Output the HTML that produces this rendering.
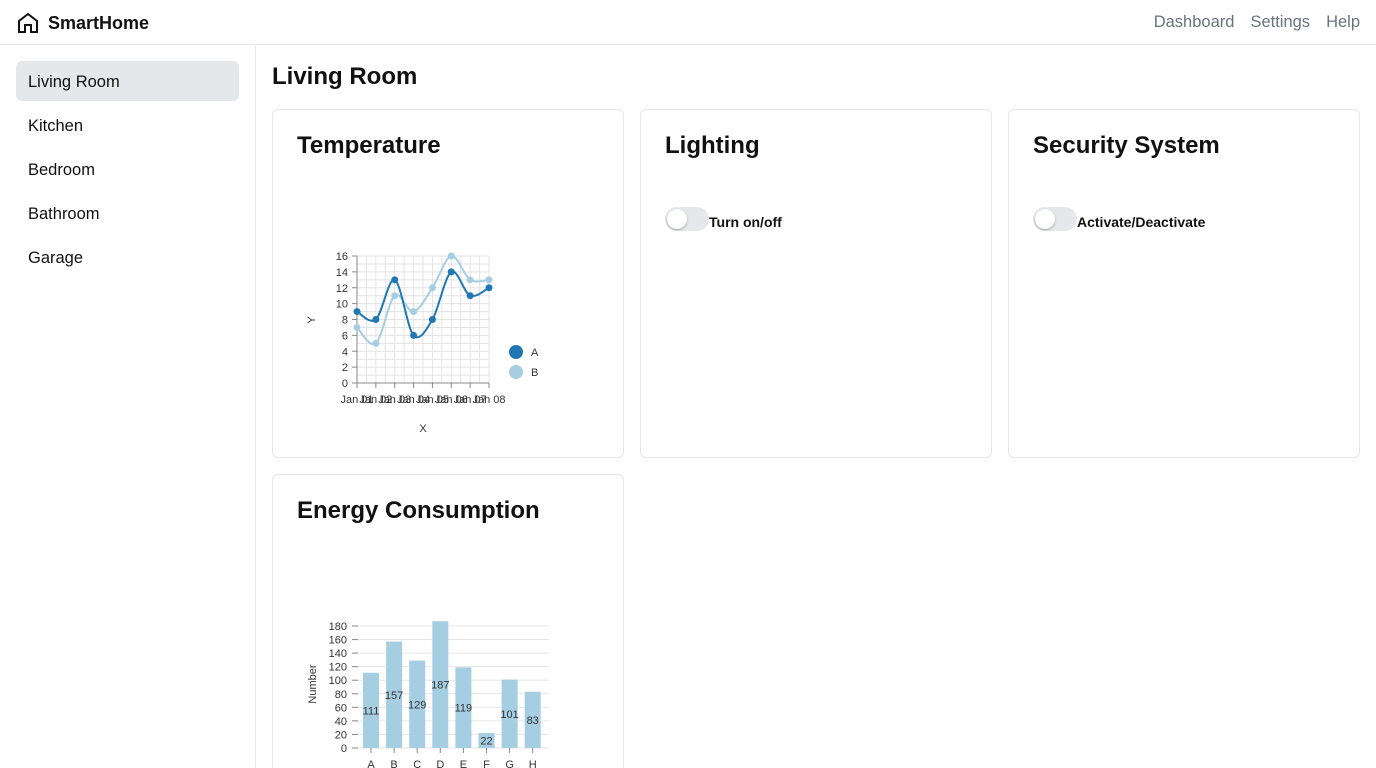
<!DOCTYPE html>
<html><head><meta charset="utf-8"><style>
*{box-sizing:border-box;margin:0;padding:0}
html,body{width:1376px;height:768px;overflow:hidden}
body{background:#fff;font-family:"Liberation Sans","DejaVu Sans",sans-serif;color:#111;position:relative}
.hdr{position:absolute;left:0;top:0;width:1376px;height:45px;border-bottom:1px solid #e5e7eb}
.logo{position:absolute;left:16px;top:11px;display:flex;align-items:center;gap:8px;font-weight:bold;font-size:18px}
.nav{position:absolute;right:16px;top:13px;display:flex;gap:16px;font-size:16.5px;color:#6b7280}
.side{position:absolute;left:0;top:45px;width:256px;height:723px;border-right:1px solid #e5e7eb}
.si{position:absolute;left:16px;width:223px;height:40px;line-height:42px;padding-left:12px;font-size:16.5px;border-radius:6px}
.si.act{background:#e5e7eb}
h1{position:absolute;left:272px;top:63px;font-size:24px;font-weight:bold}
.card{position:absolute;border:1px solid #e5e7eb;border-radius:6px;background:#fff}
.card h2{position:absolute;left:24px;top:22px;font-size:24px;font-weight:bold}
.tg{position:absolute;top:97px;left:24px;display:flex;align-items:center;font-size:14px;font-weight:600}
.tg span{position:relative;top:3px}
.sw{width:44px;height:24px;border-radius:12px;background:#e5e7eb;position:relative}
.sw::after{content:"";position:absolute;left:2px;top:2px;width:20px;height:20px;border-radius:50%;background:#fff;box-shadow:0 1px 2px rgba(0,0,0,.3)}
svg text{font-family:"Liberation Sans",sans-serif}
</style></head><body>
<div class="hdr">
<div class="logo"><svg width="24" height="24" viewBox="0 0 24 24" fill="none" stroke="#111" stroke-width="2"><path d="M3 10 L12 3 L21 10 V21 H15 V14 H9 V21 H3 Z"/></svg><span>SmartHome</span></div>
<div class="nav"><span>Dashboard</span><span>Settings</span><span>Help</span></div>
</div>
<div class="side">
<div class="si act" style="top:16px">Living Room</div>
<div class="si" style="top:60px">Kitchen</div>
<div class="si" style="top:104px">Bedroom</div>
<div class="si" style="top:148px">Bathroom</div>
<div class="si" style="top:192px">Garage</div>
</div>
<h1>Living Room</h1>
<div class="card" style="left:272px;top:109px;width:352px;height:349px"><h2>Temperature</h2></div>
<div class="card" style="left:640px;top:109px;width:352px;height:349px"><h2>Lighting</h2>
<div class="tg"><div class="sw"></div><span>Turn on/off</span></div></div>
<div class="card" style="left:1008px;top:109px;width:352px;height:349px"><h2>Security System</h2>
<div class="tg"><div class="sw"></div><span>Activate/Deactivate</span></div></div>
<div class="card" style="left:272px;top:474px;width:352px;height:320px"><h2>Energy Consumption</h2></div>
<svg id="lc" style="position:absolute;left:0;top:0" width="1376" height="768"></svg>
<script>
const lineDates=["Jan 01","Jan 02","Jan 03","Jan 04","Jan 05","Jan 06","Jan 07","Jan 08"];
const seriesA=[9,8,13,6,8,14,11,12];
const seriesB=[7,5,11,9,12,16,13,13];
const lineYTicks=[0,2,4,6,8,10,12,14,16];
const barCats=["A","B","C","D","E","F","G","H"];
const barVals=[111,157,129,187,119,22,101,83];
const barYTicks=[0,20,40,60,80,100,120,140,160,180];
const NS="http://www.w3.org/2000/svg";
const svg=document.getElementById('lc');
function mk(t,a,txt){const e=document.createElementNS(NS,t);for(const k in a)e.setAttribute(k,a[k]);if(txt!==undefined)e.textContent=txt;svg.appendChild(e);return e;}
const lx=i=>357+i*(132/(lineDates.length-1));
const ly=v=>383-v*(127/16);
for(let v=0;v<=16;v++){const g=mk('line',{x1:357,x2:489,y1:ly(v),y2:ly(v),stroke:'#e3e3e3','stroke-width':1});}
for(let i=0;i<lineDates.length*2-1;i++){const x=357+i*(132/14);const g=mk('line',{x1:x,x2:x,y1:ly(16),y2:ly(0),stroke:'#e3e3e3','stroke-width':1});}
mk('line',{x1:357,x2:357,y1:ly(16),y2:ly(0),stroke:'#888'});
mk('line',{x1:357,x2:489,y1:ly(0),y2:ly(0),stroke:'#888'});
lineYTicks.forEach(v=>{mk('line',{x1:352,x2:357,y1:ly(v),y2:ly(v),stroke:'#888'});const t=mk('text',{x:348,y:ly(v)+4,'font-size':11,'text-anchor':'end',fill:'#333'},v);});
lineDates.forEach((d,i)=>{mk('line',{x1:lx(i),x2:lx(i),y1:ly(0),y2:ly(0)+5,stroke:'#888'});const t=mk('text',{x:lx(i),y:403,'font-size':11,'text-anchor':'middle',fill:'#333'},d);});
function curve(vals){const p=vals.map((v,i)=>[lx(i),ly(v)]);let d=`M${p[0][0]},${p[0][1]}`;for(let i=0;i<p.length-1;i++){const p0=p[i-1]||p[i],p1=p[i],p2=p[i+1],p3=p[i+2]||p2;d+=` C${p1[0]+(p2[0]-p0[0])/6},${p1[1]+(p2[1]-p0[1])/6} ${p2[0]-(p3[0]-p1[0])/6},${p2[1]-(p3[1]-p1[1])/6} ${p2[0]},${p2[1]}`;}return d;}
[[seriesB,'#a6cee3','series-b'],[seriesA,'#1f78b4','series-a']].forEach(([vals,c,n])=>{const l=mk('path',{d:curve(vals),fill:'none',stroke:c,'stroke-width':2});vals.forEach((v,i)=>{const pt=mk('circle',{cx:lx(i),cy:ly(v),r:3.5,fill:c});});});
let t=mk('text',{x:315,y:320,'font-size':11,'text-anchor':'middle',fill:'#333',transform:'rotate(-90 315 320)'},'Y');
t=mk('text',{x:423,y:432,'font-size':11,'text-anchor':'middle',fill:'#333'},'X');
let lg=mk('circle',{cx:516,cy:352,r:7,fill:'#1f78b4'});
mk('text',{x:531,y:356,'font-size':11,fill:'#333'},'A');
lg=mk('circle',{cx:516,cy:372,r:7,fill:'#a6cee3'});
mk('text',{x:531,y:376,'font-size':11,fill:'#333'},'B');
const bx=i=>371+i*23.1;
const by=v=>748-v*(122/180);
barYTicks.forEach(v=>{mk('line',{x1:356,x2:549,y1:by(v),y2:by(v),stroke:'#e6e6e6'});mk('line',{x1:352,x2:358,y1:by(v),y2:by(v),stroke:'#888'});const tt=mk('text',{x:347,y:by(v)+4,'font-size':11,'text-anchor':'end',fill:'#333'},v);});
barVals.forEach((v,i)=>{const b=mk('rect',{x:bx(i)-8,y:by(v),width:16,height:by(0)-by(v),fill:'#a6cee3'});
const lb=mk('text',{x:bx(i),y:by(v/2)+4,'font-size':11,'text-anchor':'middle',fill:'#333'},v);
mk('line',{x1:bx(i),x2:bx(i),y1:by(0),y2:by(0)+5,stroke:'#888'});
const cl=mk('text',{x:bx(i),y:768,'font-size':11,'text-anchor':'middle',fill:'#333'},barCats[i]);});
t=mk('text',{x:316,y:684,'font-size':11,'text-anchor':'middle',fill:'#333',transform:'rotate(-90 316 684)'},'Number');
</script>
</body></html>
